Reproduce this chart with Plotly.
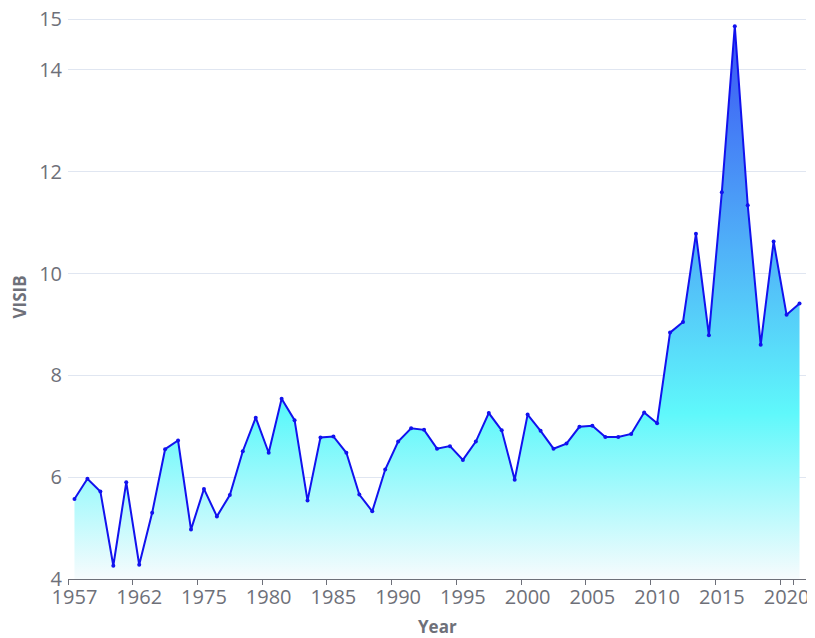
import plotly.graph_objects as go

# ---- data ----
years = ["1957", "1958", "1959", "1960", "1961", "1962", "1963", "1964", "1973", "1974",
         "1975", "1976", "1977", "1978", "1979", "1980", "1981", "1982", "1983", "1984",
         "1985", "1986", "1987", "1988", "1989", "1990", "1991", "1992", "1993", "1994",
         "1995", "1996", "1997", "1998", "1999", "2000", "2001", "2002", "2003", "2004",
         "2005", "2006", "2007", "2008", "2009", "2010", "2011", "2012", "2013", "2014",
         "2015", "2016", "2017", "2018", "2019", "2020", "2021"]
visib = [5.57, 5.97, 5.72, 4.26, 5.90, 4.28, 5.30, 6.55, 6.72, 4.97,
         5.77, 5.23, 5.65, 6.51, 7.17, 6.48, 7.54, 7.12, 5.54, 6.78,
         6.80, 6.48, 5.66, 5.33, 6.15, 6.70, 6.96, 6.93, 6.56, 6.61,
         6.34, 6.70, 7.26, 6.92, 5.95, 7.23, 6.91, 6.56, 6.66, 6.99,
         7.01, 6.79, 6.79, 6.85, 7.27, 7.06, 8.84, 9.05, 10.78, 8.79,
         11.60, 14.86, 11.34, 8.60, 10.63, 9.19, 9.41]
x_tick_labels = years[::5]
y_tick_vals = [4, 6, 8, 10, 12, 14, 15]

LABEL = "#6e7079"
FONT = "Open Sans"

# page has an 8px body margin; figure sized to fill the rest of the window
OFF = 8
W, H = 815 - OFF, 638 - OFF
ML, MR, MT, MB = 68 - OFF, 9, 16 - OFF, 59
plot_w = W - ML - MR
plot_h = H - MT - MB

fig = go.Figure()
fig.add_trace(go.Scatter(
    x=years, y=visib,
    mode="lines+markers",
    line=dict(color="#1212ee", width=2),
    marker=dict(color="#1212ee", size=4),
    fill="tozeroy",
    fillgradient=dict(
        type="vertical",
        start=4, stop=max(visib),
        colorscale=[[0.0, "#f7fbfd"], [0.3, "#5ff8fb"], [1.0, "#3b52f4"]],
    ),
    hoverinfo="x+y",
    showlegend=False,
))

fig.update_layout(
    width=W, height=H,
    margin=dict(l=ML, r=MR, t=MT, b=MB, autoexpand=False),
    paper_bgcolor="white", plot_bgcolor="white",
    font=dict(family=FONT, color=LABEL, size=20),
    xaxis=dict(
        type="category",
        categoryorder="array", categoryarray=years,
        range=[-0.5, len(years) - 0.5],
        tickmode="array", tickvals=x_tick_labels, ticktext=x_tick_labels,
        tickson="boundaries", tickangle=0, automargin=False,
        ticks="outside", ticklen=5, tickcolor=LABEL, tickwidth=1,
        showline=True, linecolor=LABEL, linewidth=1,
        showgrid=False, zeroline=False,
        tickfont=dict(family=FONT, size=20, color=LABEL),
    ),
    yaxis=dict(
        range=[4, 15.06], automargin=False,
        tickmode="array", tickvals=y_tick_vals,
        ticklabeloverflow="allow",
        showgrid=True, gridcolor="#e0e6f1", gridwidth=1,
        zeroline=False, showline=False, ticks="",
        ticklabelstandoff=5,
        tickfont=dict(family=FONT, size=20, color=LABEL),
    ),
    annotations=[
        dict(text="<b>Year</b>", x=0.5, xref="paper", y=(H - MB - (626 - OFF)) / plot_h, yref="paper",
             showarrow=False, font=dict(family=FONT, size=17, color=LABEL),
             xanchor="center", yanchor="middle"),
        dict(text="<b>VISIB</b>", x=(19 - 68) / plot_w, xref="paper", y=0.5, yref="paper",
             showarrow=False, textangle=-90, font=dict(family=FONT, size=17, color=LABEL),
             xanchor="center", yanchor="middle"),
    ],
)

fig.write_html("out.html")
